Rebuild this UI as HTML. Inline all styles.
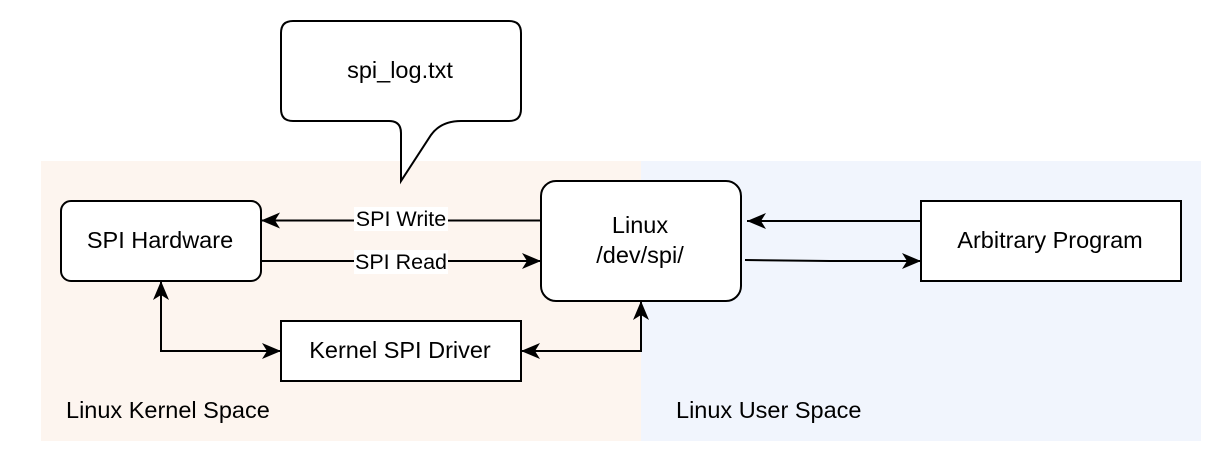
<!DOCTYPE html>
<html><head><meta charset="utf-8"><style>
html,body{margin:0;padding:0;background:#fff;}
svg{display:block;font-family:"Liberation Sans",Arial,sans-serif;}
</style></head><body>
<svg width="1222" height="462" viewBox="0 0 1222 462" xmlns="http://www.w3.org/2000/svg">
<defs>
<marker id="b" viewBox="0 0 20 20" refX="19" refY="10" markerWidth="20" markerHeight="20" orient="auto-start-reverse" markerUnits="userSpaceOnUse">
<path d="M0,2 L19,10 L0,18 L5,10 z" fill="#000"/>
</marker>
</defs>
<rect x="41" y="161" width="600" height="280" fill="#fdf5ef"/>
<rect x="641" y="161" width="560" height="280" fill="#f1f5fd"/>
<path d="M293,21 H509 Q521,21 521,33 V109 Q521,121 509,121 H461 Q441,121 431,135 L401,181 V133 Q401,121 389,121 H293 Q281,121 281,109 V33 Q281,21 293,21 Z" fill="#fff" stroke="#000" stroke-width="2"/>
<text x="400" y="78" font-size="23.5" text-anchor="middle">spi_log.txt</text>
<rect x="61" y="201" width="200" height="80" rx="10" fill="#fff" stroke="#000" stroke-width="2"/>
<text x="160" y="248" font-size="23.5" text-anchor="middle">SPI Hardware</text>
<rect x="541" y="181" width="200" height="120" rx="15" fill="#fff" stroke="#000" stroke-width="2"/>
<text x="640" y="233" font-size="23.5" text-anchor="middle">Linux</text>
<text x="640" y="263" font-size="23.5" text-anchor="middle">/dev/spi/</text>
<rect x="921" y="201" width="260" height="80" fill="#fff" stroke="#000" stroke-width="2"/>
<text x="1050" y="248" font-size="23.5" text-anchor="middle">Arbitrary Program</text>
<rect x="281" y="321" width="240" height="60" fill="#fff" stroke="#000" stroke-width="2"/>
<text x="400" y="358" font-size="23.5" text-anchor="middle">Kernel SPI Driver</text>
<g stroke="#000" stroke-width="2" fill="none">
<path d="M541,220.5 H261" marker-end="url(#b)"/>
<path d="M261,261 H541" marker-end="url(#b)"/>
<path d="M921,221 H747" marker-end="url(#b)"/>
<path d="M745,260 L830,261 H921" marker-end="url(#b)"/>
<path d="M161,281 V351 H281" marker-start="url(#b)" marker-end="url(#b)"/>
<path d="M521,351 H641 V301" marker-start="url(#b)" marker-end="url(#b)"/>
</g>
<rect x="354" y="207" width="94" height="24" fill="#fff"/>
<text x="401" y="226" font-size="21.5" text-anchor="middle">SPI Write</text>
<rect x="354" y="250" width="94" height="24" fill="#fff"/>
<text x="401" y="269" font-size="21.5" text-anchor="middle">SPI Read</text>
<text x="66" y="418" font-size="23.5">Linux Kernel Space</text>
<text x="676" y="418" font-size="23.5">Linux User Space</text>
</svg>
</body></html>
